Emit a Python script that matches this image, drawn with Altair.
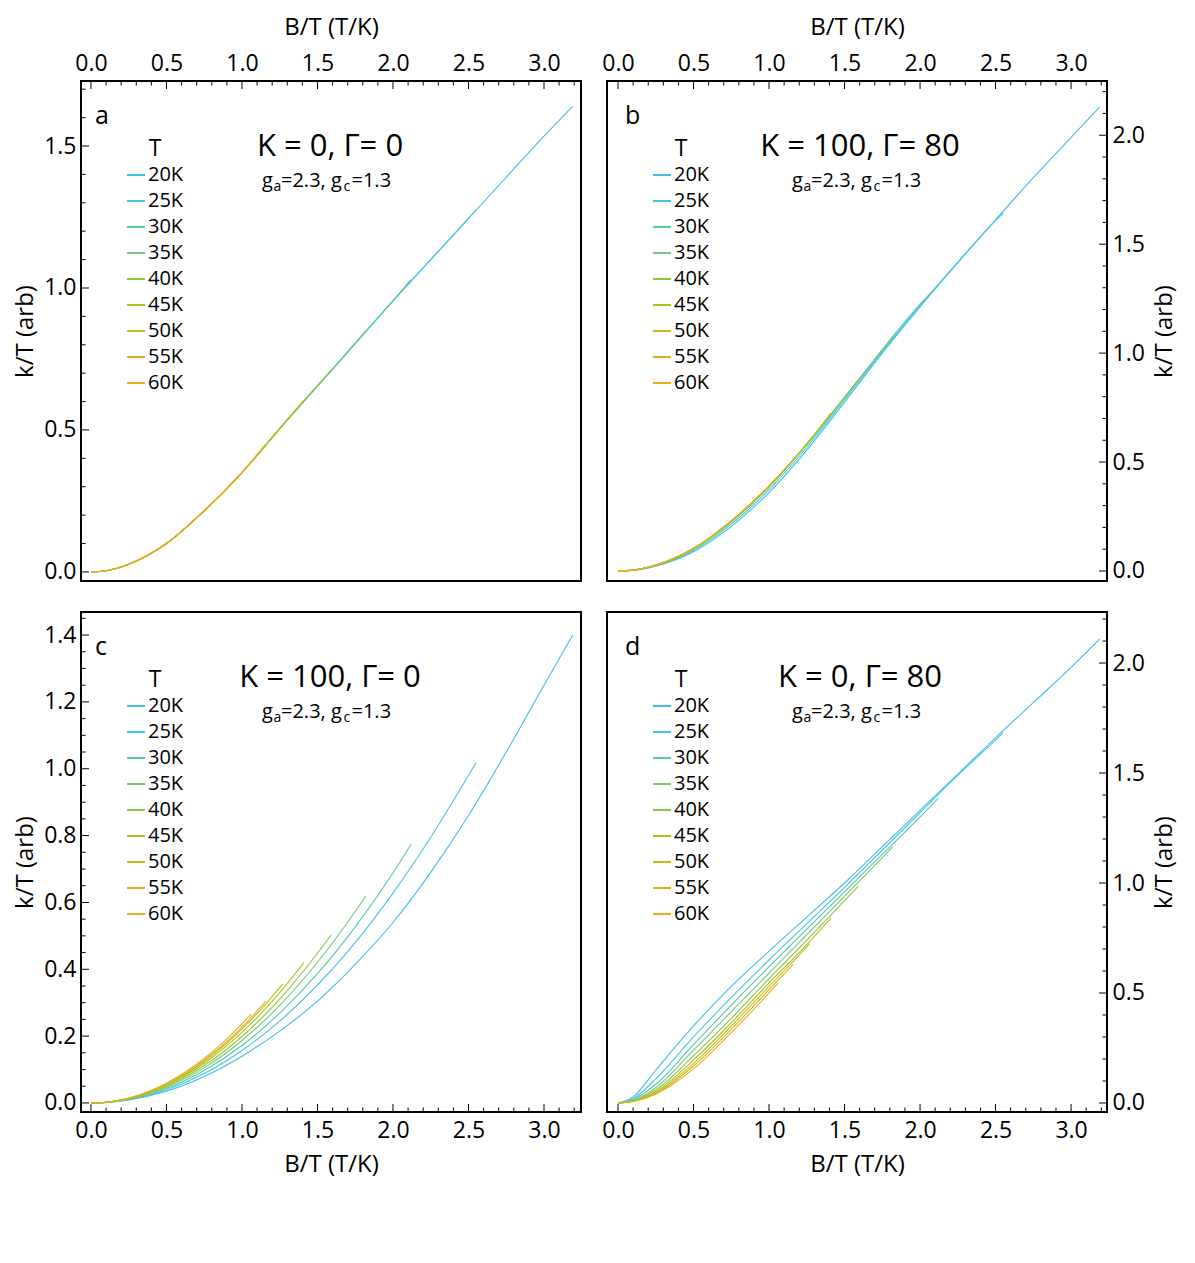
import altair as alt
import pandas as pd

# ---------------- data ----------------
TEMPS = ["20K", "25K", "30K", "35K", "40K", "45K", "50K", "55K", "60K"]
COLORS = ["#3dbdf0", "#44c6e0", "#55c9a6", "#72c97a", "#8fc43f",
          "#a8c41e", "#c2bd17", "#d8b11a", "#e9ad1f"]

X_GRID = [0, 0.1, 0.25, 0.5, 0.75, 1.0, 1.25, 1.5, 1.75, 2.0, 2.25, 2.5, 2.75, 3.0]
X_END = [3.19, 2.55, 2.12, 1.82, 1.59, 1.41, 1.27, 1.16, 1.06]

# panel a : K = 0, Gamma = 0
A_Y = [
    [0, 0.004, 0.027, 0.10, 0.215, 0.35, 0.505, 0.655, 0.805, 0.955, 1.10, 1.245, 1.39, 1.535],
    [0, 0.004, 0.027, 0.10, 0.215, 0.35, 0.505, 0.655, 0.805, 0.955, 1.10, 1.245],
    [0, 0.004, 0.027, 0.10, 0.215, 0.35, 0.505, 0.655, 0.805, 0.955],
    [0, 0.004, 0.027, 0.10, 0.215, 0.35, 0.505, 0.655, 0.805],
    [0, 0.004, 0.027, 0.10, 0.215, 0.35, 0.505, 0.655],
    [0, 0.004, 0.027, 0.10, 0.215, 0.35, 0.505],
    [0, 0.004, 0.027, 0.10, 0.215, 0.35, 0.505],
    [0, 0.004, 0.027, 0.10, 0.215, 0.35],
    [0, 0.004, 0.027, 0.10, 0.215, 0.35],
]
A_END = [1.64, 1.275, 1.03, 0.85, 0.71, 0.605, 0.517, 0.452, 0.388]

# panel b : K = 100, Gamma = 80
B_Y = [
    [0, 0.003, 0.022, 0.088, 0.205, 0.36, 0.555, 0.775, 1.0, 1.212, 1.415, 1.612, 1.805, 1.99],
    [0, 0.003, 0.024, 0.094, 0.215, 0.373, 0.568, 0.786, 1.008, 1.218, 1.418, 1.608],
    [0, 0.004, 0.025, 0.100, 0.225, 0.385, 0.580, 0.795, 1.015, 1.225],
    [0, 0.004, 0.026, 0.101, 0.227, 0.387, 0.582, 0.797, 1.015],
    [0, 0.004, 0.026, 0.102, 0.228, 0.388, 0.583, 0.798],
    [0, 0.004, 0.027, 0.103, 0.229, 0.389, 0.584],
    [0, 0.004, 0.027, 0.103, 0.230, 0.390, 0.585],
    [0, 0.004, 0.027, 0.104, 0.230, 0.390],
    [0, 0.004, 0.028, 0.104, 0.231, 0.391],
]
B_END = [2.13, 1.642, 1.31, 1.077, 0.876, 0.725, 0.603, 0.51, 0.435]

# panel c : K = 100, Gamma = 0
C_Y = [
    [0, 0.0015, 0.009, 0.035, 0.079, 0.14, 0.215, 0.305, 0.415, 0.54, 0.69, 0.86, 1.05, 1.25],
    [0, 0.0016, 0.0098, 0.039, 0.088, 0.157, 0.245, 0.353, 0.48, 0.628, 0.795, 0.98],
    [0, 0.0017, 0.011, 0.043, 0.097, 0.172, 0.269, 0.387, 0.527, 0.688],
    [0, 0.0019, 0.012, 0.047, 0.105, 0.187, 0.292, 0.421, 0.573],
    [0, 0.002, 0.0125, 0.050, 0.112, 0.199, 0.311, 0.448],
    [0, 0.0021, 0.013, 0.053, 0.119, 0.211, 0.33],
    [0, 0.0022, 0.014, 0.055, 0.124, 0.221, 0.345],
    [0, 0.0023, 0.014, 0.057, 0.128, 0.227],
    [0, 0.0024, 0.015, 0.059, 0.133, 0.237],
]
C_END = [1.40, 1.018, 0.774, 0.619, 0.503, 0.42, 0.356, 0.306, 0.266]

# panel d : K = 0, Gamma = 80
D_Y = [
    [0, 0.028, 0.15, 0.35, 0.53, 0.69, 0.845, 1.0, 1.165, 1.33, 1.495, 1.66, 1.82, 1.98],
    [0, 0.02, 0.11, 0.30, 0.48, 0.65, 0.815, 0.98, 1.15, 1.32, 1.49, 1.65],
    [0, 0.015, 0.085, 0.265, 0.445, 0.62, 0.79, 0.96, 1.13, 1.30],
    [0, 0.012, 0.070, 0.24, 0.415, 0.59, 0.765, 0.94, 1.115],
    [0, 0.010, 0.060, 0.215, 0.385, 0.565, 0.74, 0.92],
    [0, 0.009, 0.052, 0.195, 0.365, 0.545, 0.72],
    [0, 0.008, 0.047, 0.18, 0.35, 0.53, 0.71],
    [0, 0.007, 0.043, 0.168, 0.335, 0.515],
    [0, 0.0065, 0.040, 0.155, 0.32, 0.50],
]
D_END = [2.11, 1.683, 1.385, 1.165, 0.985, 0.84, 0.725, 0.63, 0.545]

LETTERS = ["a", "b", "c", "d"]
TITLES = ["K = 0, Γ= 0", "K = 100, Γ= 80", "K = 100, Γ= 0", "K = 0, Γ= 80"]
X_TITLE = "B/T (T/K)"
Y_TITLE = "k/T (arb)"

X_MAJOR = [0.0, 0.5, 1.0, 1.5, 2.0, 2.5, 3.0]
X_MINOR = [round(0.1 * i, 2) for i in range(0, 33) if i % 5 != 0]
Y_MAJOR_A = [0.0, 0.5, 1.0, 1.5]
Y_MINOR_A = [round(0.1 * i, 2) for i in range(0, 18) if i % 5 != 0]
Y_MAJOR_05 = [0.0, 0.5, 1.0, 1.5, 2.0]
Y_MINOR_AB = [round(0.1 * i, 2) for i in range(0, 23) if i % 5 != 0]
Y_MAJOR_02 = [0.0, 0.2, 0.4, 0.6, 0.8, 1.0, 1.2, 1.4]
Y_MINOR_C = [round(0.05 * i, 2) for i in range(0, 30) if i % 4 != 0]

FONT = "Open Sans"
W, H = 500, 500


def build_df(ys, ends):
    rows = []
    for t, yl, xe, ye in zip(TEMPS, ys, X_END, ends):
        for xv, yv in zip(X_GRID, yl):
            rows.append(dict(T=t, x=xv, y=yv))
        rows.append(dict(T=t, x=xe, y=ye))
    return pd.DataFrame(rows)


def txt(s, x, y, size, align="left"):
    return alt.Chart(pd.DataFrame({"s": [s]})).mark_text(
        font=FONT, fontSize=size, align=align, baseline="alphabetic", color="black"
    ).encode(x=alt.value(x), y=alt.value(y), text="s:N")


def panel(df, letter, title, xdom, ydom, x_orient, y_orient, y_major, y_minor, dx):
    xs = alt.Scale(domain=xdom, nice=False, zero=False)
    ys = alt.Scale(domain=ydom, nice=False, zero=False)
    xax = alt.Axis(orient=x_orient, values=X_MAJOR, format=".1f", ticks=False,
                   domain=False, grid=False,
                   labelPadding=6 if x_orient == "top" else 7,
                   titlePadding=13 if x_orient == "top" else 10)
    if y_orient == "left":
        yax = alt.Axis(orient="left", values=y_major, format=".1f", ticks=False,
                       domain=False, grid=False, labelPadding=5, titlePadding=6)
    else:
        yax = alt.Axis(orient="right", values=y_major, format=".1f", ticks=False,
                       domain=False, grid=False, labelPadding=5, titlePadding=8,
                       titleAngle=270, titleBaseline="top")
    color = alt.Color(
        "T:N", sort=TEMPS, scale=alt.Scale(domain=TEMPS, range=COLORS),
        legend=alt.Legend(orient="none", legendX=45, legendY=57, title="T",
                          titleAnchor="middle", symbolType="stroke", symbolSize=324,
                          symbolStrokeWidth=2))
    lines = alt.Chart(df).mark_line(strokeWidth=1.1, interpolate="monotone").encode(
        x=alt.X("x:Q", scale=xs, axis=xax, title=X_TITLE),
        y=alt.Y("y:Q", scale=ys, axis=yax, title=Y_TITLE),
        color=color,
    )
    layers = [lines]
    for vals, ln in ((X_MAJOR, 8), (X_MINOR, 4.5)):
        base = alt.Chart(pd.DataFrame({"v": vals})).mark_rule(color="black", strokeWidth=1)
        xe = alt.X("v:Q", scale=xs, axis=xax, title=X_TITLE)
        if x_orient == "top":
            layers.append(base.encode(x=xe, y=alt.value(0), y2=alt.value(ln)))
        else:
            layers.append(base.encode(x=xe, y=alt.value(H), y2=alt.value(H - ln)))
    for vals, ln in ((y_major, 8), (y_minor, 4.5)):
        base = alt.Chart(pd.DataFrame({"v": vals})).mark_rule(color="black", strokeWidth=1)
        ye = alt.Y("v:Q", scale=ys, axis=yax, title=Y_TITLE)
        if y_orient == "left":
            layers.append(base.encode(y=ye, x=alt.value(0), x2=alt.value(ln)))
        else:
            layers.append(base.encode(y=ye, x=alt.value(W), x2=alt.value(W - ln)))
    layers.append(txt(letter, 14 + dx, 43, 25))
    layers.append(txt(title, 249 + dx, 75, 31, align="center"))
    layers.append(txt("g", 181 + dx, 106, 20))
    layers.append(txt("a", 192.5 + dx, 110, 14))
    layers.append(txt("=2.3, g", 200 + dx, 106, 20))
    layers.append(txt("c", 262.5 + dx, 110, 14))
    layers.append(txt("=1.3", 270.5 + dx, 106, 20))
    return alt.layer(*layers).properties(width=W, height=H)


XDOM = [-0.066, 3.245]
XDOM_R = [-0.073, 3.238]
pa = panel(build_df(A_Y, A_END), LETTERS[0], TITLES[0], XDOM, [-0.032, 1.729], "top", "left",
           Y_MAJOR_A, Y_MINOR_A, 0)
pb = panel(build_df(B_Y, B_END), LETTERS[1], TITLES[1], XDOM_R, [-0.046, 2.249], "top", "right",
           Y_MAJOR_05, Y_MINOR_AB, 4)
pc = panel(build_df(C_Y, C_END), LETTERS[2], TITLES[2], XDOM, [-0.027, 1.469], "bottom", "left",
           Y_MAJOR_02, Y_MINOR_C, 0)
pd_ = panel(build_df(D_Y, D_END), LETTERS[3], TITLES[3], XDOM_R, [-0.041, 2.232], "bottom", "right",
            Y_MAJOR_05, Y_MINOR_AB, 4)

chart = alt.concat(pa, pb, pc, pd_, columns=2, spacing={"column": 26, "row": 31},
                   bounds="flush").resolve_scale(
    color="independent").resolve_legend(color="independent").properties(
    padding={"left": 4, "top": 6, "right": 5, "bottom": 5}, background="white"
).configure_view(
    stroke="black", strokeWidth=2
).configure_axis(
    labelFont=FONT, labelFontSize=23, labelColor="black", titleFont=FONT,
    titleFontSize=24, titleFontWeight="normal", titleColor="black", tickSize=0
).configure_legend(
    titleFont=FONT, titleFontSize=23, titleFontWeight="normal", titleColor="black",
    titlePadding=4, labelFont=FONT, labelFontSize=20, labelColor="black",
    rowPadding=6, labelOffset=2, padding=0
)

chart.save("out.html", embed_options={"renderer": "svg", "actions": False})
